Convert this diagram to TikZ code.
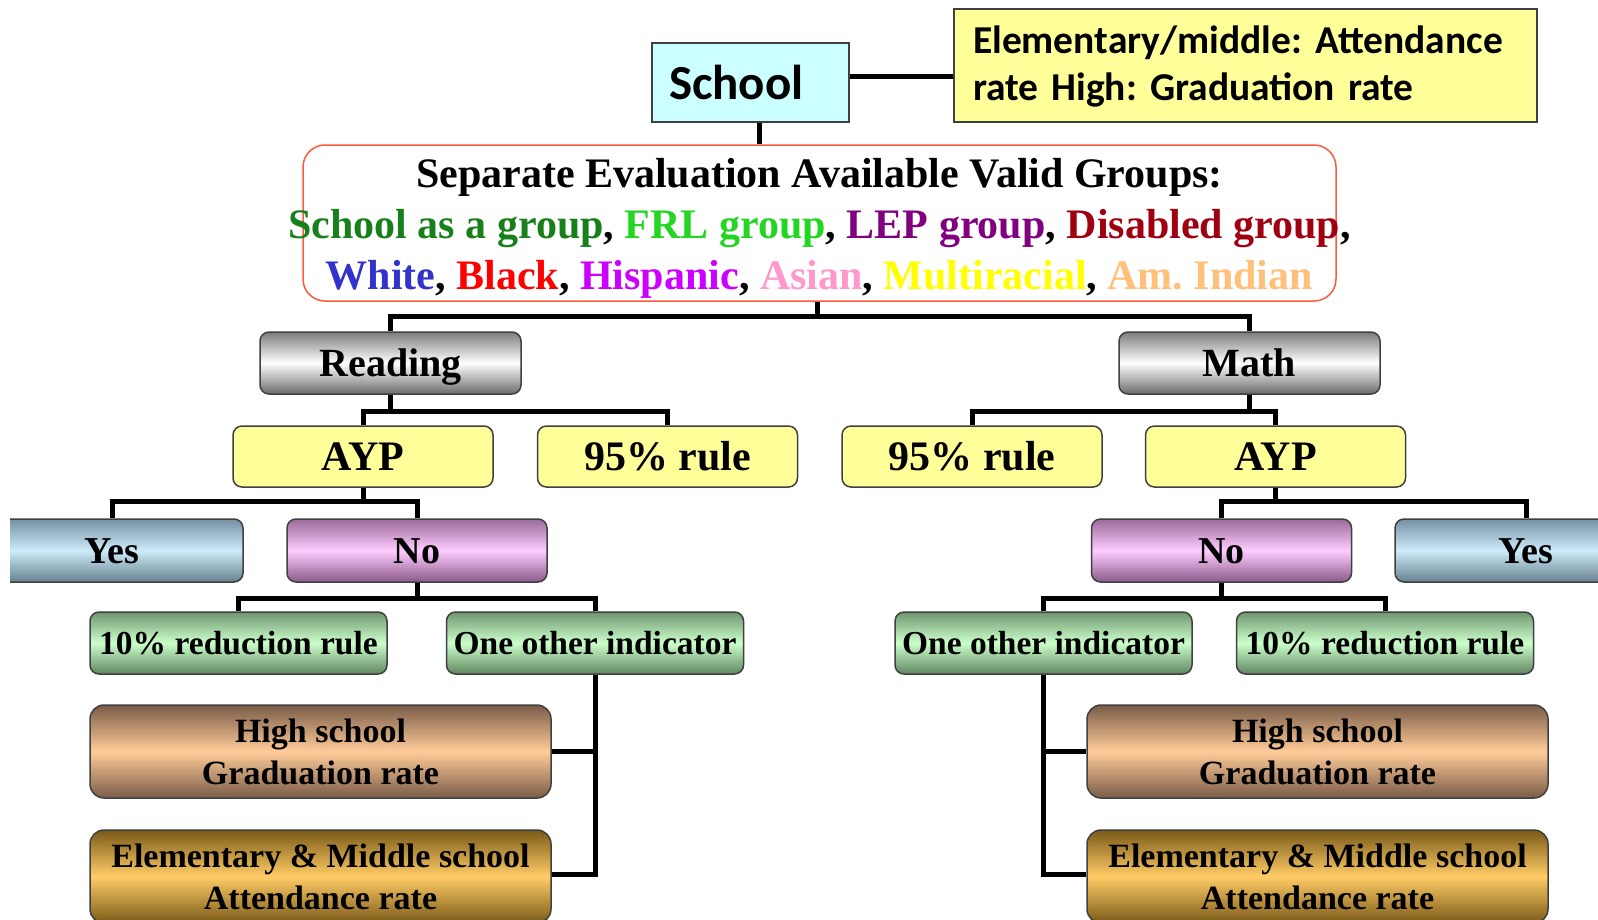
\documentclass[tikz,border=0pt]{standalone}
\usepackage{fontspec}
\setmainfont{Liberation Serif}
\newfontfamily\calibrifont[WordSpace=0.75,BoldFeatures={WordSpace=0.75}]{Carlito}
\usetikzlibrary{calc}
\frenchspacing
\definecolor{schoolcyan}{HTML}{CCFFFF}
\definecolor{lyellow}{HTML}{FFFF99}
\definecolor{grpborder}{HTML}{FF5A3C}
\definecolor{cSchool}{HTML}{17801A}
\definecolor{cFRL}{HTML}{22D622}
\definecolor{cLEP}{HTML}{800080}
\definecolor{cDis}{HTML}{A00010}
\definecolor{cWhite}{HTML}{3333CC}
\definecolor{cBlack}{HTML}{FF0000}
\definecolor{cHisp}{HTML}{CC00FF}
\definecolor{cAsian}{HTML}{FF99CC}
\definecolor{cMulti}{HTML}{FFFF00}
\definecolor{cAm}{HTML}{FFC07A}
\definecolor{gTop}{HTML}{7C7C7C}
\definecolor{gBot}{HTML}{6A6A6A}
\definecolor{yTop}{HTML}{7391A3}
\definecolor{yMid}{HTML}{CDEBFA}
\definecolor{yBot}{HTML}{66808F}
\definecolor{nTop}{HTML}{9A6A9A}
\definecolor{nMid}{HTML}{FFCCFF}
\definecolor{nBot}{HTML}{8A5A8A}
\definecolor{grTop}{HTML}{6F976F}
\definecolor{grMid}{HTML}{CCFFCC}
\definecolor{grBot}{HTML}{5F855F}
\definecolor{hTop}{HTML}{7A5C48}
\definecolor{hMid}{HTML}{FFCC99}
\definecolor{hBot}{HTML}{7A5C48}
\definecolor{eTop}{HTML}{7A5A18}
\definecolor{eMid}{HTML}{FFCC66}
\definecolor{eBot}{HTML}{7A5A18}
\begin{document}
\begin{tikzpicture}[x=1pt,y=-1pt,
  conn/.style={line width=5pt,black},
  bx/.style={draw=black!75, line width=1.5pt, inner sep=0pt, align=center},
  rbx/.style={bx, rounded corners=9pt},
  grad/.style n args={3}{top color=#1, bottom color=#3, middle color=#2},
  sz/.style 2 args={minimum width=#1pt, minimum height=#2pt},
  fA/.style={font=\bfseries\fontsize{40}{48}\selectfont, text height=32pt, text depth=5.6pt},
  fB/.style={font=\bfseries\fontsize{42}{50}\selectfont, text height=33.6pt, text depth=5.9pt},
  fC/.style={font=\bfseries\fontsize{38}{46}\selectfont, text height=30.4pt, text depth=5.3pt},
  fD/.style={font=\bfseries\fontsize{33.5}{40}\selectfont, text height=26.8pt, text depth=4.7pt},
  fE/.style={font=\bfseries\fontsize{34}{42}\selectfont},
  subj/.style={rbx, grad={gTop}{white}{gBot}, sz={261}{62}, fA},
  ybox/.style={rbx, fill=lyellow, sz={260}{61}, fB},
  yesbox/.style={rbx, grad={yTop}{yMid}{yBot}, sz={262}{63}, fC},
  nobox/.style={rbx, grad={nTop}{nMid}{nBot}, sz={260}{63}, fC},
  grbox/.style={rbx, grad={grTop}{grMid}{grBot}, sz={297}{62}, fD},
  hsbox/.style={rbx, rounded corners=14pt, grad={hTop}{hMid}{hBot}, sz={461}{93}, fE},
  elbox/.style={rbx, rounded corners=14pt, grad={eTop}{eMid}{eBot}, sz={461}{93}, fE},
]
\useasboundingbox[fill=white] (0,0) rectangle (1598,919);

% top
\node[bx, fill=schoolcyan, sz={197}{79}, text width=163pt, inner xsep=17pt, align=left,
  font=\calibrifont\bfseries\fontsize{49}{52}\selectfont] (school) at (750.5,82.5) {School};
\node[bx, fill=lyellow, sz={583}{113}, text width=545pt, inner xsep=19pt, align=left,
  font=\calibrifont\bfseries\fontsize{39.5}{47}\selectfont] (note) at (1245.5,65.5)
  {\rule{0pt}{0.75em}Elementary/middle: Attendance\\rate High: Graduation rate};
\node[draw=grpborder, line width=1.5pt, rounded corners=22pt, fill=white, sz={1033}{156}] (groups) at (819.5,223) {};
\node[align=center, inner sep=0pt, font=\bfseries\fontsize{42}{51}\selectfont] (groupstext) at (819.5,228)
  {Separate Evaluation Available Valid Groups:\\
   \textcolor{cSchool}{School as a group}, \textcolor{cFRL}{FRL group}, \textcolor{cLEP}{LEP group}, \textcolor{cDis}{Disabled group},\\
   \textcolor{cWhite}{White}, \textcolor{cBlack}{Black}, \textcolor{cHisp}{Hispanic}, \textcolor{cAsian}{Asian}, \textcolor{cMulti}{Multiracial}, \textcolor{cAm}{Am. Indian}};

% subjects
\node[subj] (reading) at (390.5,363) {Reading};
\node[subj] (math) at (1249.5,363) {Math};
\node[ybox] (ayp1) at (363,456.5) {AYP};
\node[ybox] (r95a) at (667.5,456.5) {95\% rule};
\node[ybox] (r95b) at (972,456.5) {95\% rule};
\node[ybox] (ayp2) at (1275.5,456.5) {AYP};

\begin{scope}
\clip (10,0) rectangle (1598,919);
\node[yesbox] (yes1) at (112,550.5) {Yes};
\end{scope}
\node[nobox] (no1) at (417,550.5) {No};
\node[nobox] (no2) at (1221.5,550.5) {No};
\node[yesbox] (yes2) at (1526,550.5) {Yes};

\node[grbox] (red1) at (238.5,643) {10\% reduction rule};
\node[grbox] (oth1) at (595,643) {One other indicator};
\node[grbox] (oth2) at (1043.5,643) {One other indicator};
\node[grbox] (red2) at (1385,643) {10\% reduction rule};

\node[hsbox] (hs1) at (320.5,751.5) {High school\\Graduation rate};
\node[elbox] (el1) at (320.5,876.5) {Elementary \& Middle school\\Attendance rate};
\node[hsbox] (hs2) at (1317.5,751.5) {High school\\Graduation rate};
\node[elbox] (el2) at (1317.5,876.5) {Elementary \& Middle school\\Attendance rate};

% connectors
\draw[conn] ([yshift=6pt]school.east) -- ([yshift=6pt]school.east -| note.west);
\draw[conn] ([xshift=9pt]school.south) -- ([xshift=9pt]school.south |- groups.north);
\draw[conn] ([xshift=-2pt]groups.south) -- ++(0,15) -| (reading.north);
\draw[conn] ([xshift=-2pt]groups.south) -- ++(0,15) -| (math.north);
\draw[conn] (reading.south) -- ++(0,17) -| (ayp1.north);
\draw[conn] (reading.south) -- ++(0,17) -| (r95a.north);
\draw[conn] (math.south) -- ++(0,17) -| (r95b.north);
\draw[conn] (math.south) -- ++(0,17) -| (ayp2.north);
\draw[conn] (ayp1.south) -- ++(0,14) -| (yes1.north);
\draw[conn] (ayp1.south) -- ++(0,14) -| (no1.north);
\draw[conn] (ayp2.south) -- ++(0,14) -| (no2.north);
\draw[conn] (ayp2.south) -- ++(0,14) -| (yes2.north);
\draw[conn] (no1.south) -- ++(0,16) -| (red1.north);
\draw[conn] (no1.south) -- ++(0,16) -| (oth1.north);
\draw[conn] (no2.south) -- ++(0,16) -| (oth2.north);
\draw[conn] (no2.south) -- ++(0,16) -| (red2.north);
\draw[conn] (oth1.south) |- (hs1.east);
\draw[conn] (oth1.south) |- ([yshift=2pt]el1.east);
\draw[conn] (oth2.south) |- (hs2.west);
\draw[conn] (oth2.south) |- ([yshift=2pt]el2.west);
\end{tikzpicture}
\end{document}
